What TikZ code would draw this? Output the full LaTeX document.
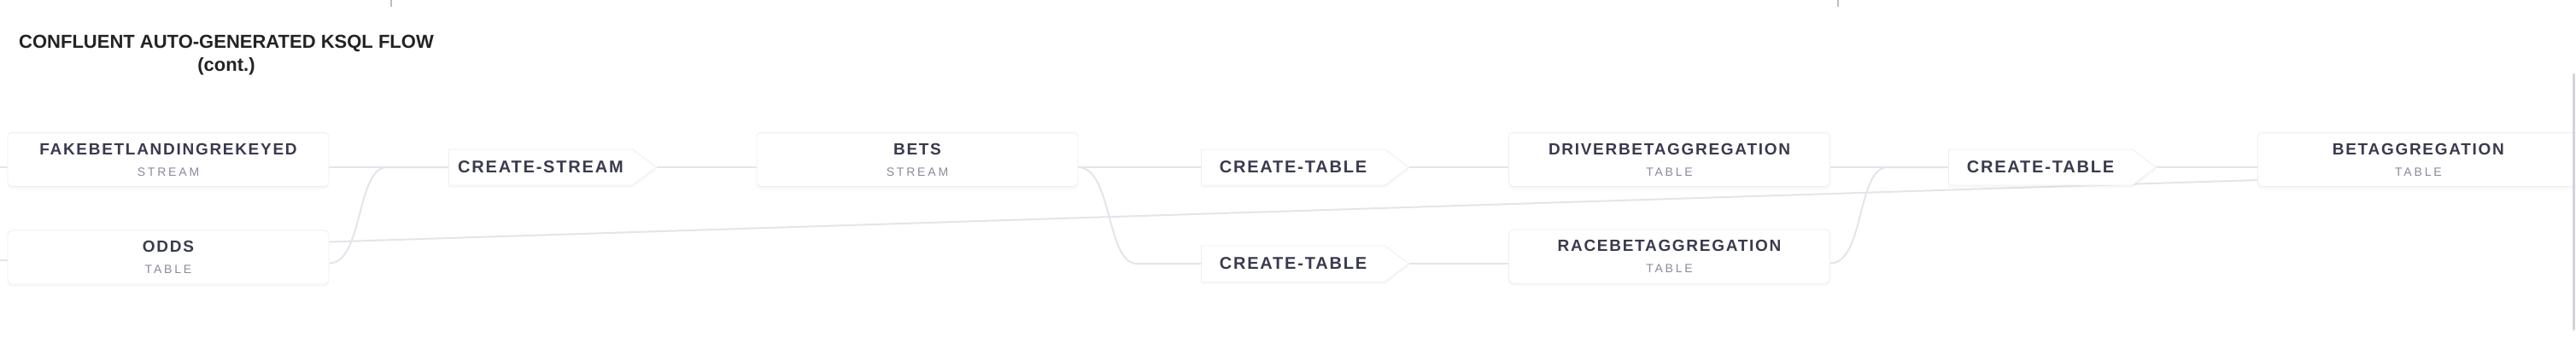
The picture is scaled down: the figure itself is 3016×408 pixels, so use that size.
\documentclass[tikz,border=0pt]{standalone}
\usepackage{fontspec}
\setmainfont{Liberation Sans}
\newfontfamily\namefont[LetterSpace=9]{Liberation Sans}
\newfontfamily\kindfont[LetterSpace=20]{Liberation Sans}
\usetikzlibrary{shapes.symbols,shadows}
\definecolor{flowline}{HTML}{E4E4EA}
\definecolor{boxedge}{HTML}{EEEEF2}
\definecolor{nametext}{HTML}{3A3A4E}
\definecolor{kindtext}{HTML}{8A8A9A}
\definecolor{titletext}{HTML}{222222}
\definecolor{edgebar}{HTML}{D3D3DA}
\definecolor{tickgray}{HTML}{BDBDBD}
\pgfdeclarelayer{bg}
\pgfsetlayers{bg,main}
\newcommand{\topic}[2]{{\namefont\bfseries\fontsize{19}{25}\selectfont\color{nametext}#1}\\{\kindfont\fontsize{14}{25}\selectfont\color{kindtext}#2}}
\tikzset{
  flow/.style={draw=flowline, line width=2pt},
  topicbox/.style={rectangle, rounded corners=5pt, fill=white, draw=boxedge, line width=0.8pt,
    minimum width=376pt, minimum height=63pt, inner sep=0pt, align=center,
    font=\fontsize{19}{25}\selectfont,
    drop shadow={shadow xshift=0pt, shadow yshift=-3pt, opacity=0.06}},
  querybox/.style={signal, signal to=east, signal pointer angle=74, fill=white, draw=boxedge,
    line width=0.8pt, minimum width=243pt, minimum height=42pt, inner sep=0pt, anchor=west,
    font=\namefont\bfseries\fontsize{20}{24}\selectfont, text=nametext,
    drop shadow={shadow xshift=0pt, shadow yshift=-3pt, opacity=0.06}}
}
\begin{document}
\begin{tikzpicture}[x=1pt, y=-1pt]
  \useasboundingbox (0,0) rectangle (3016,408);
  \clip (0,0) rectangle (3016,408);
  \node (title) at (265,65) [align=center, font=\bfseries\fontsize{22}{27}\selectfont, text=titletext]
    {CONFLUENT AUTO-GENERATED KSQL FLOW\\(cont.)};

  % sources
  \node (fake) at (197,187) [topicbox] {\topic{FAKEBETLANDINGREKEYED}{STREAM}};
  \node (odds) at (197,301.5) [topicbox] {\topic{ODDS}{TABLE}};
  \node (cstream) at (525,196) [querybox] {CREATE-STREAM};
  \node (bets) at (1074,187) [topicbox] {\topic{BETS}{STREAM}};
  \node (ctdriver) at (1406,196) [querybox] {CREATE-TABLE};
  \node (ctrace) at (1406,309) [querybox] {CREATE-TABLE};
  \node (driver) at (1954.5,187) [topicbox] {\topic{DRIVERBETAGGREGATION}{TABLE}};
  \node (race) at (1954.5,300.5) [topicbox] {\topic{RACEBETAGGREGATION}{TABLE}};
  \node (ctbet) at (2281,196) [querybox] {CREATE-TABLE};
  \node (betagg) at (2643,187) [topicbox, anchor=west] {\topic{BETAGGREGATION}{TABLE}};

  \coordinate (infake) at (0,196);
  \coordinate (inodds) at (0,305);

  \begin{pgfonlayer}{bg}
    \draw[flow] (infake) -- (infake -| fake.west);
    \draw[flow] (inodds) -- (inodds -| odds.west);
    \draw[flow] (fake.east |- cstream.west) -- (cstream.west);
    \draw[flow] ([yshift=-7pt]odds.east) .. controls +(40,0) and +(-36,0) .. ([xshift=-72pt]cstream.west) -- (cstream.west);
    \draw[flow] ([yshift=18pt]odds.east) -- ([yshift=-24pt]betagg.west);
    \draw[flow] (cstream.east) -- (cstream.east -| bets.west);
    \draw[flow] (bets.east |- ctdriver.west) -- (ctdriver.west);
    \draw[flow] (bets.east |- ctdriver.west) .. controls +(40,0) and +(-36,0) .. ([xshift=-75pt]ctrace.west) -- (ctrace.west);
    \draw[flow] (ctdriver.east) -- (ctdriver.east -| driver.west);
    \draw[flow] (ctrace.east) -- (ctrace.east -| race.west);
    \draw[flow] (driver.east |- ctbet.west) -- (ctbet.west);
    \draw[flow] ([yshift=-8pt]race.east) .. controls +(40,0) and +(-36,0) .. ([xshift=-71pt]ctbet.west) -- (ctbet.west);
    \draw[flow] (ctbet.east) -- (ctbet.east -| betagg.west);
  \end{pgfonlayer}

  % panel edge and ruler ticks
  \draw[edgebar, line width=3pt, line cap=round] (3013,87) -- (3013,386);
  \draw[tickgray, line width=1.2pt] (458,0) -- (458,8);
  \draw[tickgray, line width=1.2pt] (2152,0) -- (2152,8);
\end{tikzpicture}
\end{document}
